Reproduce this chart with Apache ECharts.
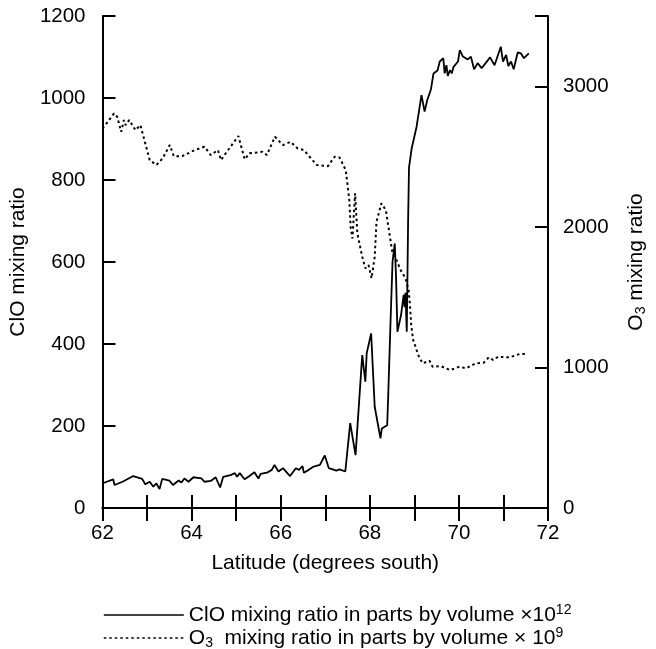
<!DOCTYPE html>
<html>
<head>
<meta charset="utf-8">
<script src="https://cdn.jsdelivr.net/npm/echarts@6/dist/echarts.min.js"></script>
<style>
html,body{margin:0;padding:0;background:#fff;}
#c{width:656px;height:649px;}
</style>
</head>
<body>
<div id="c"></div>
<script>
// Latitude (degrees south) and ClO mixing ratio (pptv)
const latClO = [62.02,62.24,62.27,62.45,62.69,62.89,62.96,63.06,63.14,63.21,63.28,63.34,63.50,63.58,63.71,63.77,63.84,63.93,64.04,64.22,64.29,64.43,64.54,64.64,64.71,64.87,64.97,65.02,65.08,65.19,65.30,65.41,65.50,65.55,65.69,65.80,65.86,65.95,66.05,66.21,66.34,66.41,66.49,66.52,66.63,66.74,66.88,66.99,67.08,67.25,67.32,67.45,67.56,67.68,67.83,67.90,67.93,68.03,68.11,68.24,68.27,68.39,68.41,68.47,68.51,68.56,68.59,68.62,68.70,68.76,68.78,68.80,68.83,68.86,68.88,68.94,69.05,69.16,69.23,69.29,69.37,69.43,69.52,69.57,69.65,69.68,69.72,69.75,69.80,69.84,69.88,69.98,70.02,70.09,70.20,70.27,70.34,70.42,70.51,70.60,70.70,70.80,70.94,70.99,71.06,71.11,71.17,71.23,71.32,71.39,71.46,71.57];
const clo = [61,70,56,64,78,71,58,64,52,60,46,71,67,56,67,62,72,64,75,72,64,66,75,50,76,80,85,76,85,70,78,87,72,83,86,93,105,89,97,78,97,93,102,86,93,101,105,128,97,91,94,89,207,129,373,308,377,426,247,170,194,202,263,470,600,645,560,430,470,520,490,525,430,700,830,877,930,1007,967,995,1020,1060,1067,1089,1097,1060,1080,1054,1068,1060,1076,1089,1117,1101,1094,1101,1070,1085,1073,1085,1099,1080,1125,1089,1105,1078,1089,1070,1111,1109,1097,1109];

// Latitude (degrees south) and O3 mixing ratio (ppbv)
const latO3 = [62.00,62.09,62.26,62.33,62.42,62.48,62.52,62.60,62.74,62.85,62.92,63.06,63.21,63.35,63.51,63.60,63.79,64.07,64.29,64.43,64.59,64.66,64.79,65.05,65.19,65.30,65.59,65.69,65.87,66.05,66.22,66.38,66.52,66.81,67.06,67.21,67.32,67.46,67.54,67.57,67.61,67.67,67.72,67.83,67.90,67.97,68.04,68.11,68.15,68.26,68.36,68.44,68.51,68.60,68.69,68.80,68.87,68.90,68.93,68.97,69.05,69.11,69.19,69.34,69.41,69.59,69.80,70.01,70.16,70.38,70.56,70.67,70.77,70.88,71.14,71.36,71.53];
const o3 = [2700,2736,2807,2783,2676,2760,2724,2760,2688,2724,2641,2475,2440,2487,2582,2503,2503,2546,2570,2511,2546,2475,2534,2646,2480,2523,2534,2511,2641,2582,2605,2558,2546,2440,2432,2499,2494,2404,2191,2000,1918,2238,1954,1787,1705,1728,1634,1787,2036,2167,2119,1954,1811,1764,1693,1634,1550,1450,1300,1200,1124,1070,1029,1048,1005,1010,981,1005,994,1029,1034,1072,1053,1076,1072,1095,1095];

const seriesNames = ['ClO', 'O3'];
const xTitle = 'Latitude (degrees south)';

const FONT = 'Liberation Sans, Arial, Helvetica, sans-serif';
const chart = echarts.init(document.getElementById('c'), null, {renderer: 'canvas'});

const zip = (xs, ys) => xs.map((x, i) => [x, ys[i]]);

const axisLineStyle = {color: '#000', width: 2};
const tickStyle = {color: '#000', width: 2};
const richText = {
  t: {fontSize: 21, color: '#000', fontFamily: FONT},
  sup: {fontSize: 14, color: '#000', fontFamily: FONT, padding: [0, 0, 10, 0]},
  sub: {fontSize: 14, color: '#000', fontFamily: FONT, padding: [10, 0, 0, 0]}
};
const legendBase = {
  show: true, orient: 'vertical', left: 98,
  itemWidth: 80, itemHeight: 12, itemGap: 0,
  itemStyle: {color: 'rgba(0,0,0,0)', borderWidth: 0, borderColor: 'rgba(0,0,0,0)', opacity: 0},
  lineStyle: {width: 1.6},
  textStyle: {fontSize: 21, color: '#000', fontFamily: FONT, rich: richText},
  formatter: name => name === 'ClO'
    ? '{t|ClO mixing ratio in parts by volume ×10}{sup|12}'
    : '{t|O}{sub|3}{t|  mixing ratio in parts by volume × 10}{sup|9}'
};

chart.setOption({
  animation: false,
  backgroundColor: '#fff',
  textStyle: {fontFamily: FONT, color: '#000'},
  grid: {left: 92, right: 101, top: 16, bottom: 141, containLabel: false},
  xAxis: [{
    type: 'value', min: 62, max: 72, interval: 1, position: 'bottom',
    name: xTitle, nameLocation: 'middle', nameGap: 45,
    nameTextStyle: {fontSize: 21, color: '#000', fontFamily: FONT},
    axisLine: {show: true, lineStyle: axisLineStyle},
    axisTick: {show: true, inside: true, length: 13, lineStyle: tickStyle},
    axisLabel: {fontSize: 20.5, color: '#000', margin: 15, fontFamily: FONT,
      formatter: v => (Math.round(v) % 2 === 0 ? String(Math.round(v)) : '')},
    splitLine: {show: false}
  }, {
    type: 'value', min: 62, max: 72, interval: 1, position: 'top',
    axisLine: {show: true, lineStyle: axisLineStyle},
    axisTick: {show: true, inside: true, length: 13, lineStyle: tickStyle},
    axisLabel: {show: false},
    splitLine: {show: false}
  }],
  yAxis: [{
    type: 'value', min: 0, max: 1200, interval: 200, position: 'left',
    name: 'ClO mixing ratio', nameLocation: 'middle', nameGap: 63, nameRotate: 90,
    nameTextStyle: {fontSize: 21, color: '#000', fontFamily: FONT},
    axisLine: {show: true, lineStyle: axisLineStyle},
    axisTick: {show: true, inside: true, length: 13, lineStyle: tickStyle},
    axisLabel: {fontSize: 20.5, color: '#000', margin: 17, fontFamily: FONT,
      formatter: v => String(v)},
    splitLine: {show: false}
  }, {
    type: 'value', min: 0, max: 3500, interval: 1000, position: 'right',
    name: '{n|O}{s|3}{n| mixing ratio}', nameLocation: 'middle', nameGap: 76, nameRotate: 90,
    nameTextStyle: {fontSize: 21, color: '#000', fontFamily: FONT,
      rich: {n: {fontSize: 21, fontFamily: FONT, color: '#000'},
             s: {fontSize: 14, fontFamily: FONT, color: '#000', padding: [10, 0, 0, 0]}}},
    axisLine: {show: true, lineStyle: axisLineStyle},
    axisTick: {show: true, inside: true, length: 13, lineStyle: tickStyle},
    axisLabel: {fontSize: 20.5, color: '#000', margin: 15, fontFamily: FONT,
      formatter: v => (v % 1000 === 0 ? String(v) : '')},
    splitLine: {show: false}
  }],
  legend: [
    Object.assign({}, legendBase, {top: 598, data: [seriesNames[0]]}),
    Object.assign({}, legendBase, {top: 621, data: [seriesNames[1]]})
  ],
  series: [{
    name: seriesNames[0], type: 'line', xAxisIndex: 0, yAxisIndex: 0,
    data: zip(latClO, clo), symbol: 'none', showSymbol: false,
    lineStyle: {color: '#000', width: 1.8, type: 'solid'},
    itemStyle: {color: '#000'}
  }, {
    name: seriesNames[1], type: 'line', xAxisIndex: 0, yAxisIndex: 1,
    data: zip(latO3, o3), symbol: 'none', showSymbol: false,
    lineStyle: {color: '#000', width: 2, type: [2.5, 3]},
    itemStyle: {color: '#000'}
  }]
});
</script>
</body>
</html>
